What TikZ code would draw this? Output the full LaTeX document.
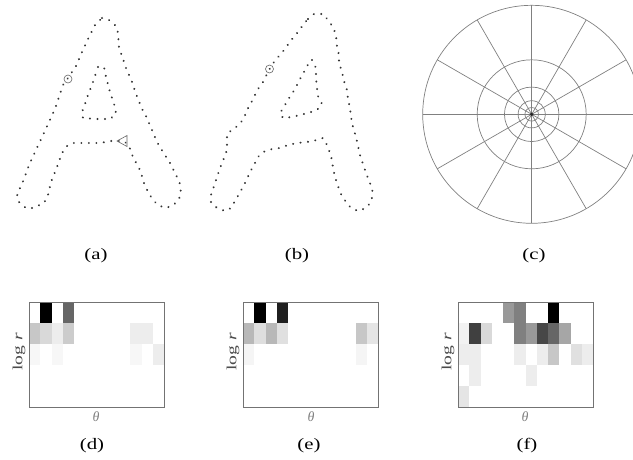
\documentclass[tikz,border=0pt]{standalone}
\usepackage{fontspec}
\setmainfont{Liberation Serif}
\usepackage{graphicx}
\usetikzlibrary{decorations.markings}

\tikzset{
  letterdots/.style={decorate,decoration={markings,
      mark=between positions 0 and 1 step 7.5pt with {\fill[black!80] (0,0) circle (1.1pt);}}},
  keymark/.style={black!60,line width=0.6pt},
  binline/.style={black!50,line width=0.7pt},
  histframe/.style={black!55,line width=0.9pt},
  caption/.style={font=\fontsize{16}{16}\selectfont},
  axislbl/.style={font=\fontsize{14}{14}\selectfont,text=black!70},
}

\begin{document}
\begin{tikzpicture}[x=1pt,y=-1pt]
  \useasboundingbox (0,0) rectangle (633,459);
  % letter A, first sample
  \path[letterdots] plot coordinates {
    (102,18) (109,20) (116,26) (118,33) (119,48) (122,56) (127,71) (131,79) (136,94)
    (142,109) (146,116) (152,130) (157,142) (163,152) (170,163) (177,177) (180,184)
    (181,194) (178,201) (172,206) (165,208) (158,205) (153,200) (148,192) (144,183)
    (140,170) (133,157) (129,146) (124,141) (111,141) (100,143) (85,143) (73,143)
    (67,146) (62,153) (57,167) (51,182) (48,195) (44,203) (33,208) (26,208) (19,202)
    (17,194) (21,186) (24,179) (29,165) (36,150) (42,137) (49,122) (55,109) (59,97)
    (63,85) (68,78) (76,66) (82,52) (89,37) (95,25) (101.5,18.5)};
  \path[letterdots] plot coordinates {
    (98,67) (104,67) (106,77) (110,92) (115,107) (116,114) (110,119) (96,119)
    (83,118) (82,112) (85,104) (88,95) (93,82) (96,73) (97.5,68)};
  \draw[keymark] (68,79) circle (4);
  \draw[keymark] (117,141) -- (127,135.5) -- (127,146.5) -- cycle;
  % letter A, second sample
  \path[letterdots] plot coordinates {
    (308,19) (314,14) (323,14) (328,20) (333,27) (336,35) (337,47) (339,55) (339,63)
    (342,72) (344,81) (347,90) (348,99) (350,108) (351,117) (353,127) (356,137)
    (358,146) (360,155) (363,164) (366,173) (370,183) (373,193) (371,202) (366,208)
    (358,211) (351,208) (346,202) (341,194) (338,186) (335,177) (333,168) (332,160)
    (330,153) (327,145) (323,138) (317,140) (307,142) (297,143) (288,145) (280,148)
    (272,149) (263,152) (258,157) (254,165) (250,172) (247,179) (243,187) (239,194)
    (235,201) (231,208) (225,211) (217,208) (211,202) (211,195) (213,189) (216,180)
    (220,168) (224,158) (227,150) (227,142) (227,134) (233,129) (239,125) (244,118)
    (247,110) (251,103) (254,97) (258,89) (263,82) (269,70) (274,62) (279,56)
    (285,49) (289,43) (293,38) (298,32) (303,25) (307.5,19.5)};
  \path[letterdots] plot coordinates {
    (312,60) (316,68) (316,78) (317,88) (318,96) (322,104) (317,110) (308,113)
    (300,115) (292,117) (283,118) (280,113) (284,107) (287,101) (292,94) (296,87)
    (300,79) (304,72) (307,66) (311.5,60.5)};
  \draw[keymark] (269.5,69) circle (4);
  % log-polar bins
  \begin{scope}[shift={(531.7,114.3)}]
    \foreach \a in {0,30,...,330} \draw[binline] (0,0) -- (\a:109);
    \foreach \r in {109,54.5,27.25,13.6,6.8} \draw[binline] (0,0) circle (\r);
    \fill[black!85] (0,0) circle (1.8);
  \end{scope}
  % histograms
  \begin{scope}[shift={(29,302)}]
    \foreach \c/\r/\v in {1/0/100,3/0/60,0/1/22,1/1/15,2/1/7,3/1/20,9/1/7,10/1/7,
        0/2/3,2/2/3,9/2/3,11/2/7}
      \fill[black!\v] (\c*11.25,\r*21) rectangle ++(11.25,21);
    \draw[histframe] (0,0) rectangle (135,105);
  \end{scope}
  \begin{scope}[shift={(243,302)}]
    \foreach \c/\r/\v in {1/0/100,3/0/88,0/1/28,1/1/13,2/1/28,3/1/12,10/1/22,11/1/10,
        0/2/4,10/2/4}
      \fill[black!\v] (\c*11.25,\r*21) rectangle ++(11.25,21);
    \draw[histframe] (0,0) rectangle (135,105);
  \end{scope}
  \begin{scope}[shift={(458,302)}]
    \foreach \c/\r/\v in {4/0/40,5/0/50,8/0/100,0/1/5,1/1/75,2/1/15,5/1/50,6/1/40,
        7/1/72,8/1/60,9/1/35,0/2/7,1/2/7,5/2/7,7/2/7,8/2/22,10/2/12,11/2/7,1/3/7,
        6/3/7,0/4/10}
      \fill[black!\v] (\c*11.25,\r*21) rectangle ++(11.25,21);
    \draw[histframe] (0,0) rectangle (135,105);
  \end{scope}
  \node[axislbl,rotate=90] (logd) at (19,352) {\scalebox{1.4}[1]{log \textit{r}}};
  \node[axislbl,rotate=90] (loge) at (233,352) {\scalebox{1.4}[1]{log \textit{r}}};
  \node[axislbl,rotate=90] (logf) at (448,352) {\scalebox{1.4}[1]{log \textit{r}}};
  \node[axislbl,text=black!50] (thd) at (96,417) {\textit{θ}};
  \node[axislbl,text=black!50] (the) at (311,417) {\textit{θ}};
  \node[axislbl,text=black!50] (thf) at (525,417) {\textit{θ}};
  \node[caption] (capa) at (96,256) {\scalebox{1.3}[1]{(a)}};
  \node[caption] (capb) at (297,256) {\scalebox{1.3}[1]{(b)}};
  \node[caption] (capc) at (534,256) {\scalebox{1.3}[1]{(c)}};
  \node[caption] (capd) at (92,446) {\scalebox{1.3}[1]{(d)}};
  \node[caption] (cape) at (309,446) {\scalebox{1.3}[1]{(e)}};
  \node[caption] (capf) at (527,446) {\scalebox{1.3}[1]{(f)}};
\end{tikzpicture}
\end{document}
